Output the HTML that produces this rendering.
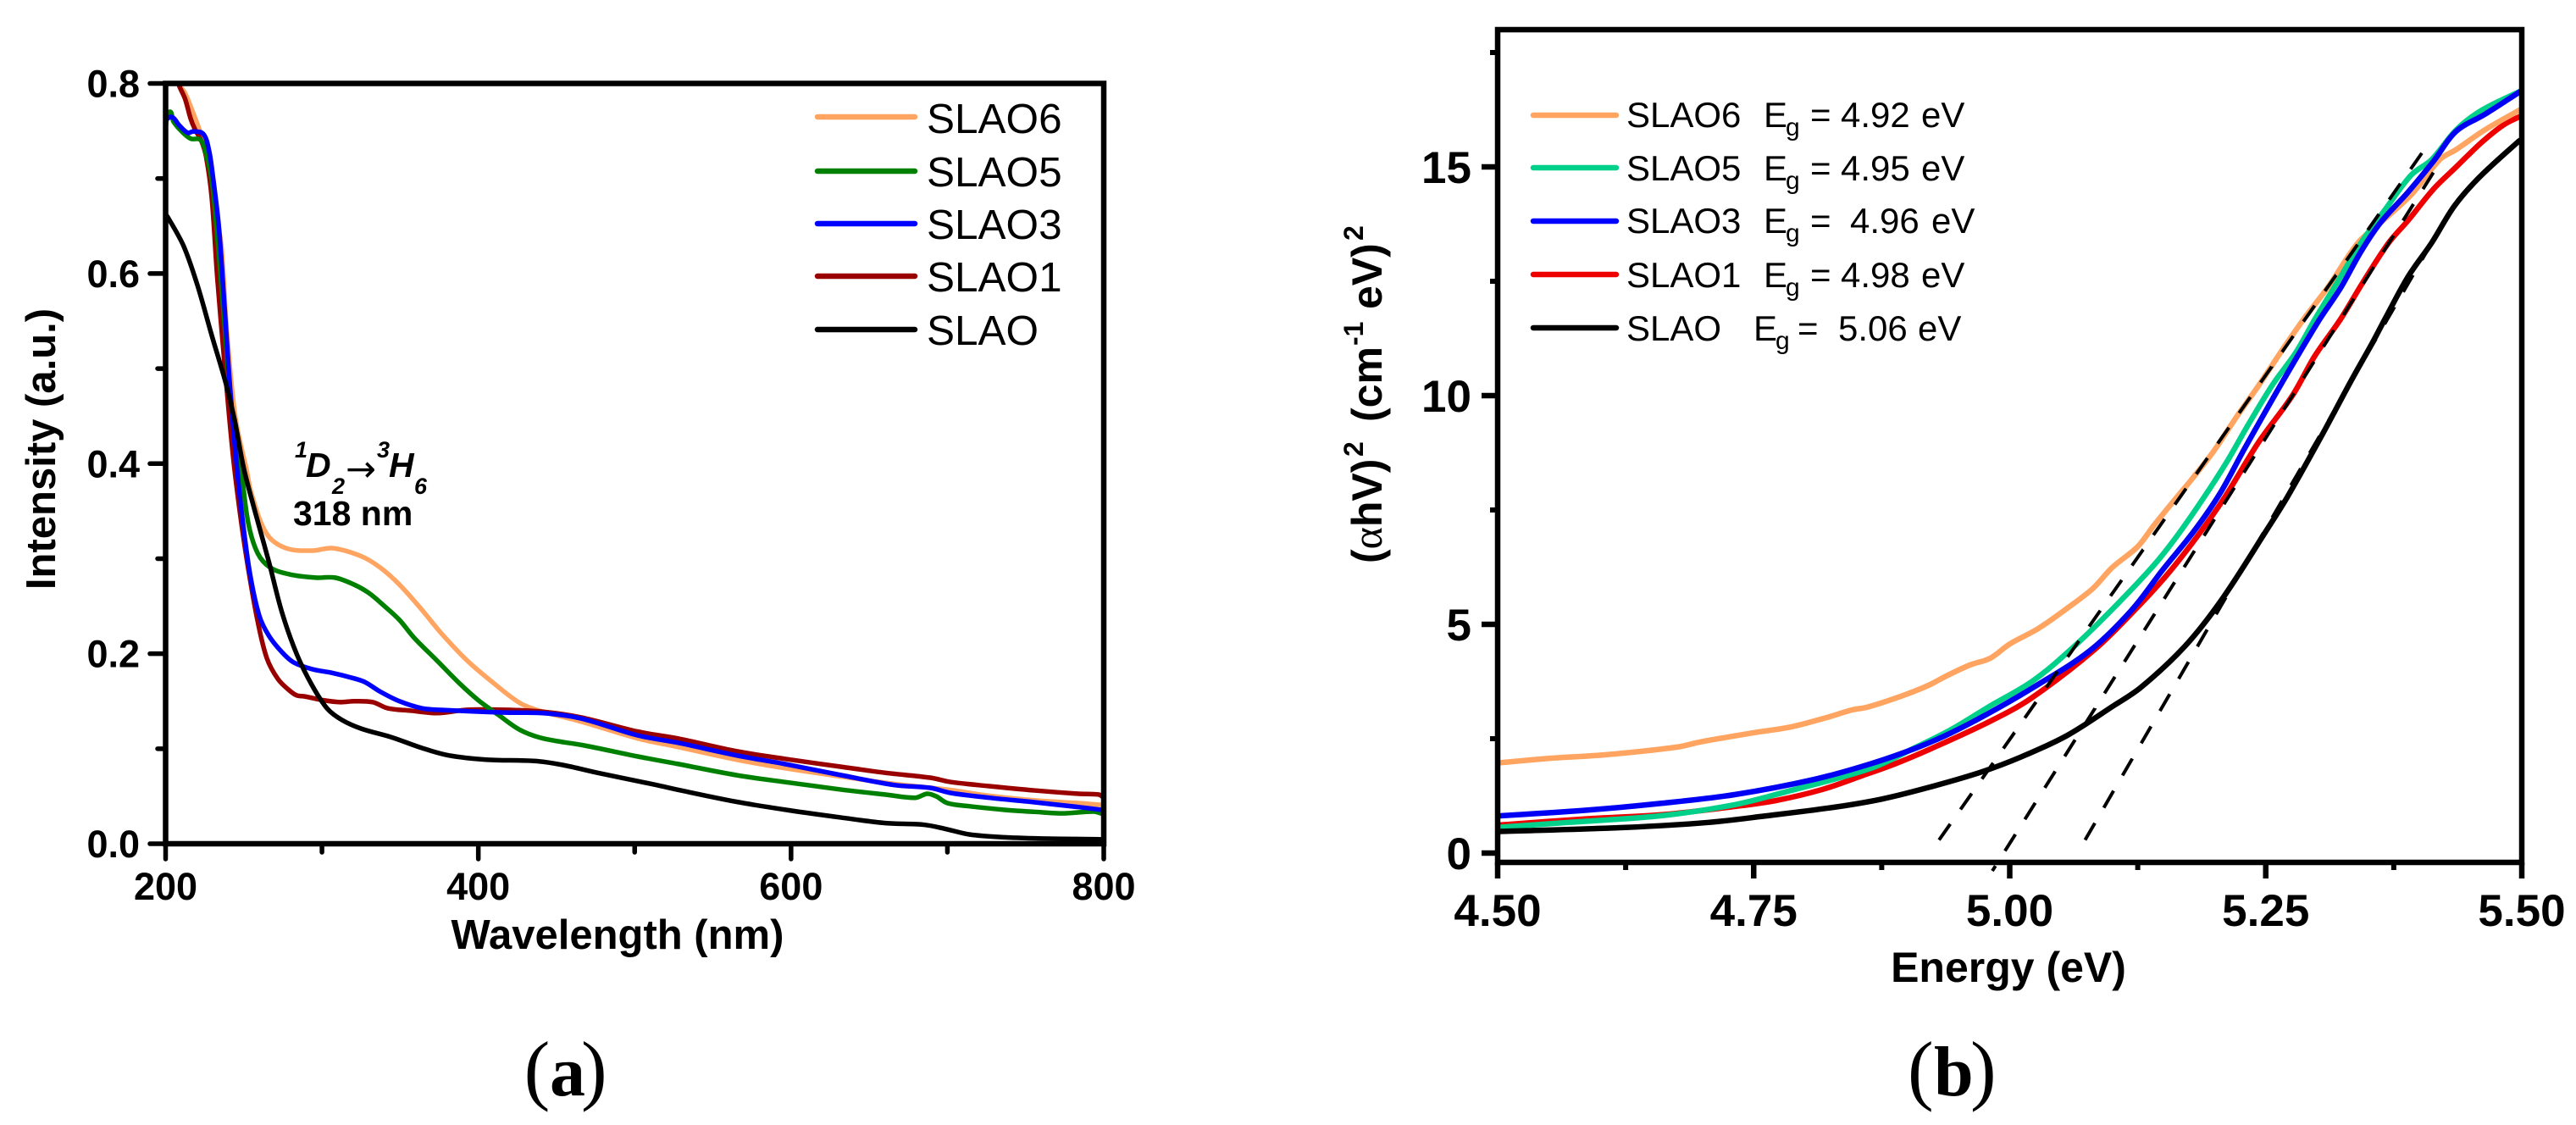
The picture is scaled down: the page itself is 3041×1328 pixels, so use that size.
<!DOCTYPE html>
<html lang="en">
<head>
<meta charset="utf-8">
<title>SLAO absorption spectra and Tauc plot</title>
<style>
html,body{margin:0;padding:0;background:#fff;}
svg{display:block;}
text{font-family:"Liberation Sans",sans-serif;fill:#000;}
.bold{font-weight:bold;}
.serif{font-family:"Liberation Serif",serif;}
</style>
</head>
<body>
<svg id="figure" xmlns="http://www.w3.org/2000/svg" width="3041" height="1328" viewBox="0 0 3041 1328">
  <rect x="0" y="0" width="3041" height="1328" fill="#fff"/>
  <defs>
    <clipPath id="clipA"><rect x="195" y="98" width="1108" height="898"/></clipPath>
    <clipPath id="clipB"><rect x="1768" y="35" width="1209" height="983"/></clipPath>
  </defs>

  <g id="panelA">
    <g id="seriesA" clip-path="url(#clipA)"></g>
    <rect x="195.5" y="98.5" width="1107.5" height="897.5" fill="none" stroke="#000" stroke-width="6.5"/>
    <g id="ticksA"></g>
    <text class="bold" x="729" y="1120" font-size="49" text-anchor="middle">Wavelength (nm)</text>
    <text class="bold" font-size="49" text-anchor="middle" transform="translate(65,530) rotate(-90)">Intensity (a.u.)</text>

    <g>
      <text x="348" y="540" font-size="27" font-weight="bold" font-style="italic">1</text>
      <text x="361" y="563" font-size="41" font-weight="bold" font-style="italic">D</text>
      <text x="392" y="583" font-size="27" font-weight="bold" font-style="italic">2</text>
      <text x="408" y="568" font-size="43" style="font-family:'DejaVu Sans',sans-serif">→</text>
      <text x="445" y="540" font-size="27" font-weight="bold" font-style="italic">3</text>
      <text x="459" y="563" font-size="41" font-weight="bold" font-style="italic">H</text>
      <text x="489" y="583" font-size="27" font-weight="bold" font-style="italic">6</text>
    </g>
    <text class="bold" x="346" y="620" font-size="41">318 nm</text>

    <g font-size="49.5">
      <g><line x1="965" y1="138" x2="1080" y2="138" stroke="#FFA561" stroke-width="6.5" stroke-linecap="round"/><text x="1094" y="157">SLAO6</text></g>
      <g><line x1="965" y1="202" x2="1080" y2="202" stroke="#008000" stroke-width="6.5" stroke-linecap="round"/><text x="1094" y="220">SLAO5</text></g>
      <g><line x1="965" y1="264" x2="1080" y2="264" stroke="#0000FF" stroke-width="6.5" stroke-linecap="round"/><text x="1094" y="282">SLAO3</text></g>
      <g><line x1="965" y1="326" x2="1080" y2="326" stroke="#990000" stroke-width="6.5" stroke-linecap="round"/><text x="1094" y="344">SLAO1</text></g>
      <g><line x1="965" y1="389" x2="1080" y2="389" stroke="#000" stroke-width="6.5" stroke-linecap="round"/><text x="1094" y="407">SLAO</text></g>
    </g>
    <text class="serif" y="1293" font-size="92"><tspan x="618.6">(</tspan><tspan x="649" font-weight="bold" font-size="84">a</tspan><tspan x="686" font-size="92">)</tspan></text>
  </g>

  <g id="panelB">
    <g id="seriesB" clip-path="url(#clipB)"></g>
    <g id="fitsB"></g>
    <rect x="1768" y="35" width="1209" height="983" fill="none" stroke="#000" stroke-width="6.5"/>
    <g id="ticksB"></g>
    <text class="bold" x="2371" y="1159" font-size="50" text-anchor="middle">Energy (eV)</text>
    <text class="bold" font-size="50" transform="translate(1631,665) rotate(-90)"><tspan x="0">(</tspan><tspan class="serif" font-weight="normal">α</tspan><tspan>hV)</tspan><tspan x="126" y="-22" font-size="32">2</tspan><tspan x="167" y="0">(cm</tspan><tspan x="257" y="-22" font-size="32">-1</tspan><tspan x="300" y="0">eV)</tspan><tspan x="381" y="-22" font-size="32">2</tspan></text>

    <g font-size="42">
      <g><line x1="1810" y1="136" x2="1908" y2="136" stroke="#FFA561" stroke-width="6.5" stroke-linecap="round"/>
        <text y="150"><tspan x="1920">SLAO6</tspan><tspan x="2082">E</tspan><tspan x="2108" dy="10" font-size="30">g</tspan><tspan x="2137" dy="-10">=</tspan><tspan x="2173">4.92</tspan><tspan x="2268">eV</tspan></text></g>
      <g><line x1="1810" y1="198" x2="1908" y2="198" stroke="#00D08A" stroke-width="6.5" stroke-linecap="round"/>
        <text y="213"><tspan x="1920">SLAO5</tspan><tspan x="2082">E</tspan><tspan x="2108" dy="10" font-size="30">g</tspan><tspan x="2137" dy="-10">=</tspan><tspan x="2173">4.95</tspan><tspan x="2268">eV</tspan></text></g>
      <g><line x1="1810" y1="261" x2="1908" y2="261" stroke="#0000FF" stroke-width="6.5" stroke-linecap="round"/>
        <text y="275"><tspan x="1920">SLAO3</tspan><tspan x="2082">E</tspan><tspan x="2108" dy="10" font-size="30">g</tspan><tspan x="2137" dy="-10">=</tspan><tspan x="2184">4.96</tspan><tspan x="2280">eV</tspan></text></g>
      <g><line x1="1810" y1="324" x2="1908" y2="324" stroke="#EE0000" stroke-width="6.5" stroke-linecap="round"/>
        <text y="339"><tspan x="1920">SLAO1</tspan><tspan x="2082">E</tspan><tspan x="2108" dy="10" font-size="30">g</tspan><tspan x="2137" dy="-10">=</tspan><tspan x="2173">4.98</tspan><tspan x="2268">eV</tspan></text></g>
      <g><line x1="1810" y1="387" x2="1908" y2="387" stroke="#000" stroke-width="6.5" stroke-linecap="round"/>
        <text y="402"><tspan x="1920">SLAO</tspan><tspan x="2070">E</tspan><tspan x="2096" dy="10" font-size="30">g</tspan><tspan x="2122" dy="-10">=</tspan><tspan x="2170">5.06</tspan><tspan x="2264">eV</tspan></text></g>
    </g>
    <text class="serif" y="1293" font-size="92"><tspan x="2252">(</tspan><tspan x="2283" font-weight="bold" font-size="84">b</tspan><tspan x="2326" font-size="92">)</tspan></text>
  </g>
</svg>

<script>
// Panel (a) tick values
const tickXMajorA = ["200","400","600","800"];
const tickXMinorA = [300,500,700];
const tickYMajorA = ["0.0","0.2","0.4","0.6","0.8"];
const tickYMinorA = [0.1,0.3,0.5,0.7];

// Panel (a) series
const wavelengthSLAO6 = [200,206,208,212.4,216.9,223,229.5,233,235.8,239.3,244.7,252,255,264.7,277,293.9,307,325.3,337.3,349.5,364,376,393,410,426.7,439,465.6,502,527.5,565,595.7,632,666,702,726.7,755.6,784,800];
const intensitySLAO6 = [.81,.81,.80,.79,.772,.745,.71,.66,.6265,.537,.448,.3915,.368,.326,.311,.3084,.311,.3024,.2905,.2727,.246,.222,.1925,.1687,.148,.14,.1286,.1108,.1019,.0885,.0796,.0707,.063,.0565,.0505,.0457,.0427,.0407];
const wavelengthSLAO1 = [200,206,208.8,212.4,216,218.7,223,225.9,229.5,233,237.6,243,247.9,252.8,258.9,264.8,272,279.4,284,289,301,312,320.5,332.4,342,356.8,373.7,393,417,441,465.6,502,527.5,565,595.7,632,660.5,689,702,726.7,755.6,784,797,800];
const intensitySLAO1 = [.81,.81,.797,.784,.763,.752,.739,.723,.68,.597,.507,.41,.344,.29,.234,.195,.173,.161,.156,.155,.151,.149,.15,.149,.1426,.14,.1375,.141,.141,.139,.133,.118,.1108,.0974,.0894,.081,.0746,.0695,.065,.0606,.0561,.0526,.0517,.0484];
const wavelengthSLAO5 = [200,202.4,205,210,216,222.3,226,229.5,233,237,241,245,248,252.8,258.9,267,279.4,296,308.3,320.5,330,339.7,349.5,359,373.7,388,400,412.5,426.7,441.5,467.8,502,527.5,565,595.7,632,660.5,679.5,687,692.7,700,713.8,736.6,755.6,774.6,793.6,800];
const intensitySLAO5 = [.755,.77,.76,.75,.742,.7406,.725,.698,.64,.56,.48,.42,.3975,.338,.3056,.2905,.2834,.28,.28,.2727,.2638,.2504,.2356,.2166,.1925,.1687,.151,.136,.1197,.1108,.1034,.0918,.084,.0722,.065,.057,.0517,.0484,.0526,.05,.0428,.0395,.0357,.0336,.032,.0339,.031];
const wavelengthSLAO3 = [200,204,208.8,214.2,217.6,224,227.7,230.4,234,237.6,241.3,245.5,249,253.9,259.9,266,274.5,281.7,293.9,305.9,320.5,327.6,337.3,349.5,363.8,376,417,441,465.6,502,527.5,565,595.7,632,666,689,702,726.7,755.6,784,800];
const intensitySLAO3 = [.7615,.7647,.7558,.748,.7495,.747,.73,.70,.65,.567,.478,.3975,.344,.2846,.24,.219,.2014,.191,.1836,.18,.174,.17,.16,.15,.1426,.1408,.138,.1375,.1319,.114,.1063,.093,.084,.0722,.0618,.0588,.0535,.0484,.0437,.0386,.0354];
const wavelengthSLAO = [200,201.5,211.5,220.3,229.5,238.6,244,250,257.6,266,274.5,284,293.9,303.5,313,325.3,344.6,364,381,405,436.7,453.6,478,514,527,565.6,599.6,632,660.5,685,698.6,714,736.6,765,797,800];
const intensitySLAO = [.662,.659,.629,.588,.535,.484,.447,.395,.347,.297,.243,.199,.166,.142,.13,.121,.112,.1007,.093,.0885,.087,.083,.074,.0618,.057,.044,.035,.0276,.0217,.02,.0157,.0098,.0068,.0053,.0047,.004];

// Panel (b) tick values
const tickXMajorB = ["4.50","4.75","5.00","5.25","5.50"];
const tickXMinorB = [4.625,4.875,5.125,5.375];
const tickYMajorB = ["0","5","10","15"];
const tickYMinorB = [2.5,7.5,12.5,17.5];

// Panel (b) series
const energySLAO1 = [4.5,4.588,4.661,4.732,4.772,4.817,4.857,4.888,4.923,4.979,5.02,5.083,5.125,5.155,5.185,5.21,5.243,5.276,5.298,5.323,5.345,5.37,5.389,5.414,5.436,5.461,5.483,5.5];
const taucSLAO1 = [.61,.75,.84,1.02,1.15,1.39,1.7,1.95,2.28,2.86,3.37,4.45,5.38,6.12,6.98,7.78,8.98,10.0,10.87,11.67,12.48,13.34,13.83,14.52,15.0,15.54,15.93,16.12];
const energySLAO6 = [4.5,4.55,4.606,4.676,4.698,4.75,4.787,4.824,4.846,4.861,4.894,4.92,4.938,4.961,4.981,5.0,5.028,5.056,5.081,5.1,5.125,5.141,5.161,5.177,5.199,5.221,5.243,5.268,5.287,5.312,5.34,5.362,5.392,5.42,5.436,5.464,5.5];
const taucSLAO6 = [1.97,2.07,2.15,2.32,2.43,2.63,2.76,2.98,3.13,3.19,3.43,3.66,3.87,4.11,4.26,4.57,4.91,5.35,5.78,6.24,6.7,7.17,7.72,8.15,8.78,9.52,10.22,11.06,11.67,12.41,13.34,13.78,14.39,15.16,15.38,15.81,16.27];
const energySLAO5 = [4.5,4.569,4.661,4.732,4.78,4.864,4.909,4.942,4.979,5.023,5.064,5.105,5.141,5.163,5.188,5.213,5.232,5.257,5.279,5.298,5.32,5.343,5.367,5.392,5.412,5.436,5.461,5.5];
const taucSLAO5 = [.56,.67,.82,1.06,1.33,1.85,2.32,2.69,3.19,3.77,4.54,5.44,6.3,6.92,7.72,8.59,9.33,10.25,10.93,11.67,12.48,13.34,14.08,14.82,15.16,15.81,16.24,16.67];
const energySLAO3 = [4.5,4.588,4.661,4.732,4.809,4.864,4.909,4.942,4.979,5.023,5.078,5.119,5.149,5.18,5.205,5.229,5.265,5.301,5.323,5.343,5.362,5.389,5.414,5.436,5.464,5.5];
const taucSLAO3 = [.81,.94,1.09,1.28,1.61,1.95,2.3,2.62,3.05,3.62,4.42,5.31,6.18,7.04,7.85,8.83,10.25,11.61,12.35,13.15,13.78,14.45,15.13,15.78,16.15,16.67];
const energySLAO = [4.5,4.625,4.706,4.761,4.828,4.875,4.92,4.972,5.012,5.056,5.1,5.128,5.171,5.207,5.25,5.271,5.304,5.334,5.354,5.367,5.389,5.412,5.434,5.458,5.497,5.5];
const taucSLAO = [.47,.56,.67,.81,1.0,1.18,1.43,1.77,2.11,2.57,3.2,3.62,4.52,5.54,7.03,7.78,9.1,10.35,11.15,11.7,12.6,13.34,14.14,14.76,15.56,15.6];

// Panel (b) tangent fits (end points in data units)
const fit1Energy = [4.931,5.4115];
const fit1Tauc = [.287,15.59];
const fit2Energy = [4.983,5.42];
const fit2Tauc = [-.39,15.1];
const fit3Energy = [5.0736,5.4336];
const fit3Tauc = [.287,14.17];

const SVGNS = 'http://www.w3.org/2000/svg';
const xA = v => 195.5 + (v - 200) * (1303 - 195.5) / 600;
const yA = v => 996 - v * (996 - 98.5) / 0.8;
const xB = v => 1768 + (v - 4.5) * 1209;
const yB = v => 1007 - v * 54;

// Builds a smooth path through the data points (tangent-limited cubic segments).
function smoothPath(px, py) {
  const n = px.length;
  let d = 'M' + px[0].toFixed(2) + ' ' + py[0].toFixed(2);
  for (let i = 0; i < n - 1; i++) {
    const seg = Math.hypot(px[i + 1] - px[i], py[i + 1] - py[i]);
    const p0 = Math.max(i - 1, 0), p3 = Math.min(i + 2, n - 1);
    let ax = px[i + 1] - px[p0], ay = py[i + 1] - py[p0];
    let bx = px[p3] - px[i], by = py[p3] - py[i];
    const al = Math.hypot(ax, ay) || 1, bl = Math.hypot(bx, by) || 1;
    const c1x = px[i] + ax / al * seg / 3, c1y = py[i] + ay / al * seg / 3;
    const c2x = px[i + 1] - bx / bl * seg / 3, c2y = py[i + 1] - by / bl * seg / 3;
    d += 'C' + c1x.toFixed(2) + ' ' + c1y.toFixed(2) + ' ' + c2x.toFixed(2) + ' ' + c2y.toFixed(2) + ' ' + px[i + 1].toFixed(2) + ' ' + py[i + 1].toFixed(2);
  }
  return d;
}

function drawLine(parent, xs, ys, xf, yf, color, width, name) {
  const el = document.createElementNS(SVGNS, 'path');
  const n = Math.min(xs.length, ys.length);
  const px = [], py = [];
  for (let i = 0; i < n; i++) {
    px.push(xf(xs[i]));
    py.push(yf(ys[i]));
  }
  el.setAttribute('d', smoothPath(px, py));
  el.setAttribute('fill', 'none');
  el.setAttribute('stroke', color);
  el.setAttribute('stroke-width', width);
  el.setAttribute('stroke-linejoin', 'round');
  
  
  parent.appendChild(el);
  return el;
}

function drawTick(parent, x1, y1, x2, y2, width, cap, name) {
  const el = document.createElementNS(SVGNS, 'line');
  el.setAttribute('x1', x1);
  el.setAttribute('y1', y1);
  el.setAttribute('x2', x2);
  el.setAttribute('y2', y2);
  el.setAttribute('stroke', '#000');
  el.setAttribute('stroke-width', width);
  el.setAttribute('stroke-linecap', cap);
  
  
  parent.appendChild(el);
}

function drawLabel(parent, x, y, str, size, anchor, name) {
  const el = document.createElementNS(SVGNS, 'text');
  el.setAttribute('x', x);
  el.setAttribute('y', y);
  el.setAttribute('font-size', size);
  el.setAttribute('font-weight', 'bold');
  el.setAttribute('text-anchor', anchor);
  
  
  el.textContent = str;
  parent.appendChild(el);
}

// Panel (a)
const gA = document.getElementById('seriesA');
drawLine(gA, wavelengthSLAO6, intensitySLAO6, xA, yA, '#FFA561', 5.5, 'series-slao6');
drawLine(gA, wavelengthSLAO1, intensitySLAO1, xA, yA, '#990000', 5.5, 'series-slao1');
drawLine(gA, wavelengthSLAO5, intensitySLAO5, xA, yA, '#008000', 5.5, 'series-slao5');
drawLine(gA, wavelengthSLAO3, intensitySLAO3, xA, yA, '#0000FF', 5.5, 'series-slao3');
drawLine(gA, wavelengthSLAO, intensitySLAO, xA, yA, '#000000', 5.5, 'series-slao');

const tA = document.getElementById('ticksA');
tickXMajorA.forEach(s => {
  const v = parseFloat(s);
  drawTick(tA, xA(v), 996, xA(v), 1014, 5.5, 'round', 'x-tick-a');
  drawLabel(tA, xA(v), 1062, s, 45, 'middle', 'x-tick-label-a');
});
tickXMinorA.forEach(v => drawTick(tA, xA(v), 996, xA(v), 1006, 5.5, 'round', 'x-minor-tick-a'));
tickYMajorA.forEach(s => {
  const v = parseFloat(s);
  drawTick(tA, 195, yA(v), 177, yA(v), 5.5, 'round', 'y-tick-a');
  drawLabel(tA, 165, yA(v) + 16, s, 45, 'end', 'y-tick-label-a');
});
tickYMinorA.forEach(v => drawTick(tA, 195, yA(v), 186, yA(v), 5.5, 'round', 'y-minor-tick-a'));

// Panel (b)
const gB = document.getElementById('seriesB');
drawLine(gB, energySLAO1, taucSLAO1, xB, yB, '#EE0000', 6.5, 'series-slao1-tauc');
drawLine(gB, energySLAO6, taucSLAO6, xB, yB, '#FFA561', 6.5, 'series-slao6-tauc');
drawLine(gB, energySLAO5, taucSLAO5, xB, yB, '#00D08A', 6.5, 'series-slao5-tauc');
drawLine(gB, energySLAO3, taucSLAO3, xB, yB, '#0000F5', 6.5, 'series-slao3-tauc');
drawLine(gB, energySLAO, taucSLAO, xB, yB, '#000000', 6.5, 'series-slao-tauc');

const fB = document.getElementById('fitsB');
const f1 = drawLine(fB, fit1Energy, fit1Tauc, xB, yB, '#000000', 4, 'tangent-fit-1');
f1.setAttribute('stroke-dasharray', '23 21');
const f2 = drawLine(fB, fit2Energy, fit2Tauc, xB, yB, '#000000', 4, 'tangent-fit-2');
f2.setAttribute('stroke-dasharray', '23 21');
f2.setAttribute('stroke-dashoffset', '16');
const f3 = drawLine(fB, fit3Energy, fit3Tauc, xB, yB, '#000000', 4, 'tangent-fit-3');
f3.setAttribute('stroke-dasharray', '23 21');

const tB = document.getElementById('ticksB');
tickXMajorB.forEach(s => {
  const v = parseFloat(s);
  drawTick(tB, xB(v), 1018, xB(v), 1037, 6.5, 'butt', 'x-tick-b');
  drawLabel(tB, xB(v), 1093, s, 53, 'middle', 'x-tick-label-b');
});
tickXMinorB.forEach(v => drawTick(tB, xB(v), 1018, xB(v), 1027, 6, 'butt', 'x-minor-tick-b'));
tickYMajorB.forEach(s => {
  const v = parseFloat(s);
  drawTick(tB, 1768, yB(v), 1749, yB(v), 6.5, 'butt', 'y-tick-b');
  drawLabel(tB, 1737, yB(v) + 19, s, 53, 'end', 'y-tick-label-b');
});
tickYMinorB.forEach(v => drawTick(tB, 1768, yB(v), 1759, yB(v), 6, 'butt', 'y-minor-tick-b'));
</script>
</body>
</html>
